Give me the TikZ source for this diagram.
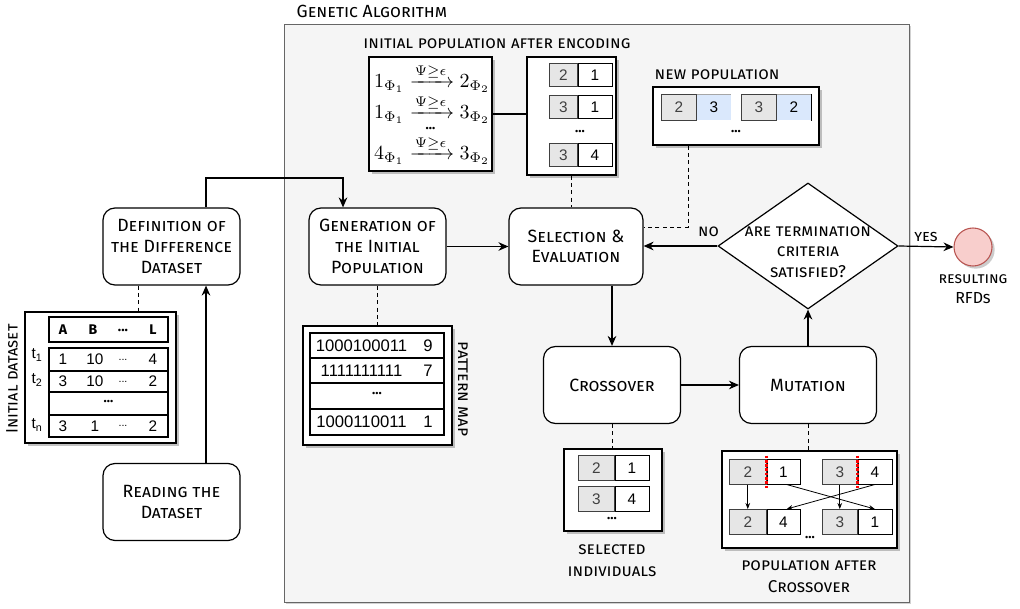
\documentclass[tikz,border=0pt]{standalone}
\usepackage{amsmath}
\usepackage{fontspec}
\setmainfont{Fira Sans}
\newfontfamily\cellfont{Liberation Sans}
\usetikzlibrary{shapes.geometric,arrows.meta,shadows,calc}

\definecolor{panel}{HTML}{F5F5F5}
\definecolor{panelline}{HTML}{666666}
\definecolor{cellgray}{HTML}{E6E6E6}
\definecolor{cellblue}{HTML}{DAE8FC}
\definecolor{endfill}{HTML}{F8CECC}
\definecolor{endline}{HTML}{B85450}

\tikzset{
  proc/.style={draw, rounded corners=9pt, fill=white, line width=0.9pt, align=center,
    minimum width=102.75pt, minimum height=57.75pt, inner sep=1pt,
    font=\fontsize{13.3}{15.5}\selectfont\scshape},
  holder/.style={draw, fill=white, line width=0.9pt, inner sep=0pt,
    drop shadow={shadow xshift=2.2pt, shadow yshift=-2.2pt, fill=black!40, opacity=0.6}},
  cellbase/.style={inner sep=0pt, font=\cellfont\fontsize{11.5}{12}\selectfont},
  cg/.style={cellbase, draw=black!75, fill=cellgray, text=black!75},
  cw/.style={cellbase, draw, fill=white},
  cb/.style={cellbase, fill=cellblue},
  arr/.style={-{Stealth[length=7.5pt,width=6.5pt]}, line width=0.9pt},
  thinarr/.style={-{Stealth[length=4.5pt,width=3.5pt]}, line width=0.6pt},
  dsh/.style={dash pattern=on 3pt off 2.5pt, line width=0.7pt},
  lab/.style={font=\fontsize{12.8}{16.5}\selectfont\scshape, align=center},
  dots/.style={font=\bfseries\fontsize{10}{10}\selectfont},
  mathrow/.style={anchor=base, inner sep=0pt, scale=1.5, transform shape},
}

% a pair of adjacent cells: name, x, y, w1, w2, h, text1, text2, style2
\newcommand\cellpair[9]{%
  \node[cg, anchor=north west, minimum width=#4*0.75pt, minimum height=#6*0.75pt] (#1a) at (#2,#3) {#7};
  \node[#9, anchor=north west, minimum width=#5*0.75pt, minimum height=#6*0.75pt] (#1b) at (#1a.north east) {#8};}

\begin{document}
\begin{tikzpicture}[x=0.75pt,y=-0.75pt]
\useasboundingbox (0,0) rectangle (1020,609);

% container of the genetic algorithm
\node[draw=panelline, fill=panel, line width=1pt, anchor=north west,
      minimum width=468.75pt, minimum height=433.5pt,
      drop shadow={shadow xshift=1.2pt, shadow yshift=-1.2pt, fill=black!30, opacity=0.6}] (ga) at (284,24) {};
\node[anchor=west, font=\fontsize{13.2}{14}\selectfont\scshape] (gatitle) at (292,11) {Genetic Algorithm};

% process steps
\node[proc] (def) at (171.5,246.5) {Definition of\\the Difference\\Dataset};
\node[proc] (read) at (171.5,502) {Reading the\\Dataset};
\node[proc] (gen) at (377.5,246.5) {Generation of\\the Initial\\Population};
\node[proc, minimum width=100.5pt] (sel) at (576,246.5) {Selection \&\\Evaluation};
\node[proc] (cro) at (612,385) {Crossover};
\node[proc] (mut) at (808,385) {Mutation};

% termination test
\node[diamond, draw, fill=white, line width=0.9pt, minimum width=135pt, minimum height=94.5pt, inner sep=0pt] (dec) at (808,246) {};
\node[font=\fontsize{12.8}{15.4}\selectfont\scshape, align=center] (dectext) at (808,252) {are termination\\criteria\\satisfied?};

% final result
\node[circle, draw=endline, fill=endfill, line width=0.8pt, minimum size=28.5pt, inner sep=0pt,
      drop shadow={shadow xshift=2pt, shadow yshift=-2pt, fill=black!40, opacity=0.5}] (res) at (973,247) {};
\node[font=\fontsize{11.6}{14.5}\selectfont\scshape, align=center] (restext) at (973,289) {resulting\\{\fontsize{12}{14.5}\selectfont RFDs}};

% ---------- initial dataset ----------
\node[holder, minimum width=113.25pt, minimum height=98.25pt] (ids) at (100.5,377.5) {};
\node[draw, fill=white, line width=0.8pt, minimum width=89.25pt, minimum height=18.75pt, inner sep=0pt] (idshead) at (108.5,329.5) {};
\node[draw, fill=white, line width=0.8pt, minimum width=89.25pt, minimum height=66.75pt, inner sep=0pt] (idsbody) at (108.5,392.5) {};
\draw[line width=0.8pt] (49,371) -- (168,371) (49,392) -- (168,392) (49,415) -- (168,415);
\node[font=\bfseries\fontsize{10.5}{12}\selectfont] at (63,330) {A};
\node[font=\bfseries\fontsize{10.5}{12}\selectfont] at (93,330) {B};
\node[font=\bfseries\fontsize{10.5}{12}\selectfont] at (123,330) {...};
\node[font=\bfseries\fontsize{10.5}{12}\selectfont] at (153,330) {L};
\foreach \y/\a/\b/\c in {359.5/1/10/4, 381.5/3/10/2, 426/3/1/2}{
  \node[cellbase] at (63,\y) {\a};
  \node[cellbase] at (95,\y) {\b};
  \node[cellbase, font=\cellfont\fontsize{8}{8}\selectfont] at (123,\y) {{...}};
  \node[cellbase] at (153,\y) {\c};
}
\node[dots] at (108.5,402) {...};
\node[cellbase] at (37,355) {t\textsubscript{1}};
\node[cellbase] at (37,380) {t\textsubscript{2}};
\node[cellbase] at (37,425) {t\textsubscript{n}};
\node[font=\fontsize{12.4}{13}\selectfont\scshape, rotate=90] (idslab) at (12,379) {Initial dataset};

% ---------- pattern map ----------
\node[holder, minimum width=111.75pt, minimum height=89.25pt] (pm) at (377.5,385.5) {};
\draw[line width=0.8pt] (310,333) rectangle (444,435);
\draw[line width=0.8pt] (310,358) -- (444,358) (310,383) -- (444,383) (310,409) -- (444,409);
\foreach \y/\a/\b in {345.5/1000100011/9, 370.5/1111111111/7, 422/1000110011/1}{
  \node[cellbase, font=\cellfont\fontsize{12.5}{13}\selectfont] at (361.5,\y) {\a};
  \node[cellbase, font=\cellfont\fontsize{12.5}{13}\selectfont] at (428,\y) {\b};
}
\node[dots] at (377,394) {...};
\node[font=\fontsize{12.8}{13}\selectfont\scshape, rotate=-90] (pmlab) at (463,389) {pattern map};

% ---------- initial population after encoding ----------
\node[lab] (iplab) at (497,44) {initial population after encoding};
\node[holder, minimum width=92.25pt, minimum height=85.5pt] (ipm) at (430.5,114) {};
\node[mathrow] (r1) at (432,88) {$1_{\Phi_1}\xrightarrow{\Psi\geq\epsilon}2_{\Phi_2}$};
\node[mathrow] (r2) at (432,119) {$1_{\Phi_1}\xrightarrow{\Psi\geq\epsilon}3_{\Phi_2}$};
\node[dots, anchor=base] at (430.5,130) {...};
\node[mathrow] (r3) at (432,160) {$4_{\Phi_1}\xrightarrow{\Psi\geq\epsilon}3_{\Phi_2}$};

\node[holder, minimum width=66.75pt, minimum height=88.5pt] (enc) at (571.5,116) {};
\cellpair{e1}{549}{63}{28}{34}{23}{2}{1}{cw}
\cellpair{e2}{549}{95}{28}{34}{23}{3}{1}{cw}
\node[dots] at (580,132) {...};
\cellpair{e3}{549}{143}{28}{34}{23}{3}{4}{cw}

% ---------- new population ----------
\node[anchor=west, lab] (nplab) at (650,75) {new population};
\node[holder, minimum width=124.5pt, minimum height=43.5pt] (np) at (736,116) {};
\cellpair{n1}{661}{94}{35}{34}{26}{2}{3}{cb}
\cellpair{n2}{741}{94}{35}{34}{26}{3}{2}{cb}
\draw[black!35, line width=0.5pt] (n1a.north east) -- (n1b.north east);
\draw[black!35, line width=0.5pt] (n2a.north east) -- (n2b.north east);
\draw[line width=0.8pt] (n2b.north east) -- (n2b.south east);
\node[dots] at (736,132) {...};

% ---------- selected individuals ----------
\node[holder, minimum width=73.5pt, minimum height=61.5pt] (sb) at (613,490) {};
\cellpair{s1}{578}{455}{36}{34}{25}{2}{1}{cw}
\cellpair{s2}{578}{486}{36}{34}{25}{3}{4}{cw}
\node[dots] at (612,519) {...};
\node[lab] (sblab) at (612,561) {selected\\individuals};

% ---------- population after crossover ----------
\node[holder, minimum width=131.25pt, minimum height=72.75pt] (pa) at (809.5,499.5) {};
\cellpair{p1}{729}{459}{37}{33}{25}{2}{1}{cw}
\cellpair{p2}{822}{459}{35}{34}{25}{3}{4}{cw}
\cellpair{p3}{729}{509}{37}{33}{25}{2}{4}{cw}
\cellpair{p4}{822}{509}{35}{34}{25}{3}{1}{cw}
\node[dots] at (810,538) {...};
\draw[red, line width=1.6pt, dash pattern=on 2pt off 1.2pt] ([yshift=2.5pt]p1a.north east) -- ([yshift=-3pt]p1a.south east);
\draw[red, line width=1.6pt, dash pattern=on 2pt off 1.2pt] ([yshift=2.5pt]p2a.north east) -- ([yshift=-3pt]p2a.south east);
\draw[thinarr] (p1a.south) -- (p3a.north);
\draw[thinarr] (p2a.south) -- (p4a.north);
\draw[thinarr] ([xshift=-10pt]p1b.south east) -- (p4b.north);
\draw[thinarr] (p2b.south) -- ([xshift=-10pt]p3b.north east);
\node[lab] (palab) at (809,577) {population after\\Crossover};

% ---------- connectors ----------
\coordinate (upx) at (206,178);
\coordinate (genin) at (343,178);
\draw[arr] (def.north -| upx) -- (upx) -| (gen.north -| genin);
\draw[arr] (read.north -| upx) -- (def.south -| upx);
\coordinate (dsx) at (138,300);
\draw[dsh] (def.south -| dsx) -- (ids.north -| dsx);
\draw[arr] (gen.east) -- (sel.west);
\draw[dsh] (gen.south) -- (pm.north);
\draw[line width=0.8pt] (ipm.east) -- (ipm.east -| enc.west);
\draw[dsh] (enc.south) -- (enc.south |- sel.north);
\coordinate (npc) at (688,227);
\draw[dsh] (np.south -| npc) -- (npc) -- (npc -| sel.east);
\draw[arr] (dec.west) -- (dec.west -| sel.east) node[pos=0.12, above=3pt, font=\fontsize{12.5}{13}\selectfont\scshape] {no};
\draw[arr] (dec.east) -- (res.west) node[midway, above=0pt, font=\fontsize{12}{13}\selectfont\scshape] {yes};
\draw[arr] (sel.south -| cro.north) -- (cro.north);
\draw[arr] (cro.east) -- (mut.west);
\draw[arr] (mut.north) -- (dec.south);
\draw[dsh] (cro.south) -- (cro.south |- sb.north);
\draw[dsh] (mut.south) -- (mut.south |- pa.north);
\end{tikzpicture}
\end{document}
